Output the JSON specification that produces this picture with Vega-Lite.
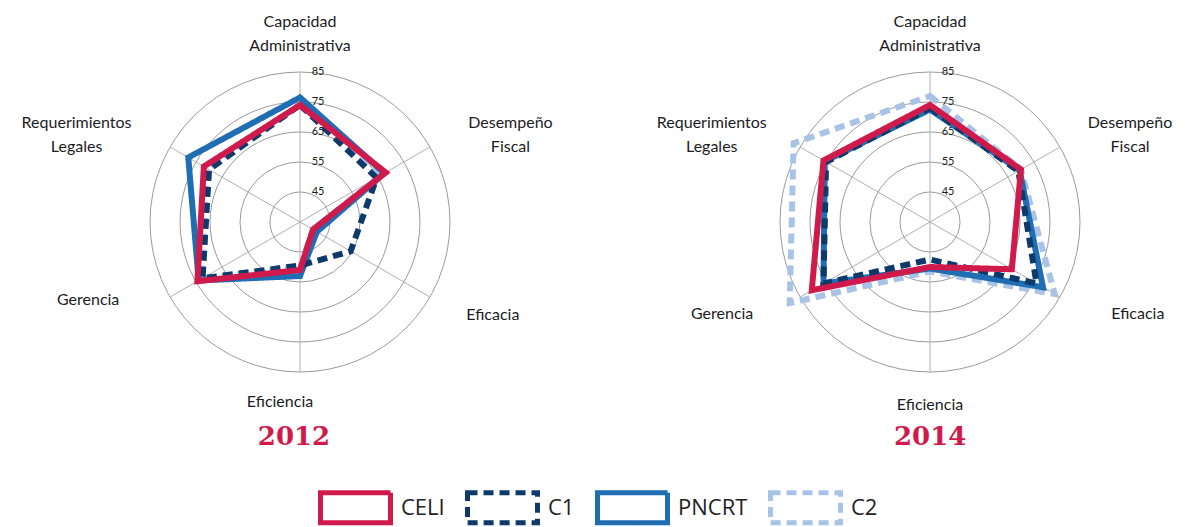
{
  "$schema": "https://vega.github.io/schema/vega-lite/v6.json",
  "padding": 0,
  "background": "white",
  "config": {"view": {"stroke": null}},
  "datasets": {
    "radar": [
      {"year": 2012, "serie": "C2", "k": 0, "v": 74},
      {"year": 2012, "serie": "C2", "k": 1, "v": 66.5},
      {"year": 2012, "serie": "C2", "k": 2, "v": 40},
      {"year": 2012, "serie": "C2", "k": 3, "v": 50},
      {"year": 2012, "serie": "C2", "k": 4, "v": 72.5},
      {"year": 2012, "serie": "C2", "k": 5, "v": 71},
      {"year": 2012, "serie": "PNCRT", "k": 0, "v": 76.5},
      {"year": 2012, "serie": "PNCRT", "k": 1, "v": 67.5},
      {"year": 2012, "serie": "PNCRT", "k": 2, "v": 41.5},
      {"year": 2012, "serie": "PNCRT", "k": 3, "v": 53},
      {"year": 2012, "serie": "PNCRT", "k": 4, "v": 74},
      {"year": 2012, "serie": "PNCRT", "k": 5, "v": 78},
      {"year": 2012, "serie": "C1", "k": 0, "v": 74},
      {"year": 2012, "serie": "C1", "k": 1, "v": 64.5},
      {"year": 2012, "serie": "C1", "k": 2, "v": 54.5},
      {"year": 2012, "serie": "C1", "k": 3, "v": 49.5},
      {"year": 2012, "serie": "C1", "k": 4, "v": 72.5},
      {"year": 2012, "serie": "C1", "k": 5, "v": 70},
      {"year": 2012, "serie": "CELI", "k": 0, "v": 74},
      {"year": 2012, "serie": "CELI", "k": 1, "v": 68},
      {"year": 2012, "serie": "CELI", "k": 2, "v": 40},
      {"year": 2012, "serie": "CELI", "k": 3, "v": 51},
      {"year": 2012, "serie": "CELI", "k": 4, "v": 74.5},
      {"year": 2012, "serie": "CELI", "k": 5, "v": 72},
      {"year": 2014, "serie": "C2", "k": 0, "v": 77},
      {"year": 2014, "serie": "C2", "k": 1, "v": 70},
      {"year": 2014, "serie": "C2", "k": 2, "v": 83},
      {"year": 2014, "serie": "C2", "k": 3, "v": 51.5},
      {"year": 2014, "serie": "C2", "k": 4, "v": 89},
      {"year": 2014, "serie": "C2", "k": 5, "v": 87.5},
      {"year": 2014, "serie": "PNCRT", "k": 0, "v": 72.5},
      {"year": 2014, "serie": "PNCRT", "k": 1, "v": 69.5},
      {"year": 2014, "serie": "PNCRT", "k": 2, "v": 78.5},
      {"year": 2014, "serie": "PNCRT", "k": 3, "v": 50.5},
      {"year": 2014, "serie": "PNCRT", "k": 4, "v": 76},
      {"year": 2014, "serie": "PNCRT", "k": 5, "v": 75.5},
      {"year": 2014, "serie": "C1", "k": 0, "v": 73},
      {"year": 2014, "serie": "C1", "k": 1, "v": 69},
      {"year": 2014, "serie": "C1", "k": 2, "v": 76},
      {"year": 2014, "serie": "C1", "k": 3, "v": 47.5},
      {"year": 2014, "serie": "C1", "k": 4, "v": 76},
      {"year": 2014, "serie": "C1", "k": 5, "v": 75},
      {"year": 2014, "serie": "CELI", "k": 0, "v": 74},
      {"year": 2014, "serie": "CELI", "k": 1, "v": 70},
      {"year": 2014, "serie": "CELI", "k": 2, "v": 66.5},
      {"year": 2014, "serie": "CELI", "k": 3, "v": 50},
      {"year": 2014, "serie": "CELI", "k": 4, "v": 80.5},
      {"year": 2014, "serie": "CELI", "k": 5, "v": 76}
    ],
    "rings": [{"ring": 45}, {"ring": 55}, {"ring": 65}, {"ring": 75}, {"ring": 85}],
    "ejes": [
      {"k": 0, "label": "Capacidad\nAdministrativa"},
      {"k": 1, "label": "Desempeño\nFiscal"},
      {"k": 2, "label": "Eficacia"},
      {"k": 3, "label": "Eficiencia"},
      {"k": 4, "label": "Gerencia"},
      {"k": 5, "label": "Requerimientos\nLegales"}
    ]
  },
  "resolve": {
    "scale": {"x": "independent", "y": "independent"}
  },
  "spacing": 30,
  "hconcat": [
    {
      "width": 600,
      "height": 420,
      "title": {"text": "2012", "orient": "bottom", "offset": 4, "dx": -6, "font": "DejaVu Serif", "fontSize": 26, "fontWeight": "bold", "color": "#d11a4c", "anchor": "middle"},
      "layer": [
        {
          "data": {"name": "rings"},
          "transform": [{"calculate": "0", "as": "z"}, {"calculate": "datum.ring - 35", "as": "rr"}],
          "mark": {"type": "point", "shape": "circle", "filled": false, "stroke": "#9a9a9a", "strokeWidth": 1, "opacity": 1},
          "encoding": {
            "x": {"field": "z", "type": "quantitative", "scale": {"domain": [-100, 100]}, "axis": null},
            "y": {"field": "z", "type": "quantitative", "scale": {"domain": [-66, 74]}, "axis": null},
            "size": {"field": "rr", "type": "quantitative", "scale": {"type": "pow", "exponent": 2, "domain": [0, 50], "range": [0, 90000]}, "legend": null}
          }
        },
        {
          "data": {"name": "ejes"},
          "transform": [
            {"calculate": "0", "as": "z"},
            {"calculate": "50*sin(datum.k*PI/3)", "as": "ex"},
            {"calculate": "50*cos(datum.k*PI/3)", "as": "ey"}
          ],
          "mark": {"type": "rule", "stroke": "#b0b0b0", "strokeWidth": 1},
          "encoding": {
            "x": {"field": "z", "type": "quantitative", "scale": {"domain": [-100, 100]}, "axis": null},
            "y": {"field": "z", "type": "quantitative", "scale": {"domain": [-66, 74]}, "axis": null},
            "x2": {"field": "ex"},
            "y2": {"field": "ey"}
          }
        },
        {
          "data": {"name": "rings"},
          "transform": [{"calculate": "0", "as": "z"}, {"calculate": "datum.ring - 35", "as": "ry"}],
          "mark": {"type": "text", "dx": 18, "fontSize": 11, "font": "Lato", "color": "#222222", "align": "center", "baseline": "middle"},
          "encoding": {
            "x": {"field": "z", "type": "quantitative", "scale": {"domain": [-100, 100]}, "axis": null},
            "y": {"field": "ry", "type": "quantitative", "scale": {"domain": [-66, 74]}, "axis": null},
            "text": {"field": "ring", "type": "quantitative"}
          }
        },
        {
          "data": {"name": "radar"},
          "transform": [
            {"filter": "datum.year == 2012"},
            {"calculate": "(datum.v-35)*sin(datum.k*PI/3)", "as": "px"},
            {"calculate": "(datum.v-35)*cos(datum.k*PI/3)", "as": "py"}
          ],
          "mark": {"type": "line", "interpolate": "linear-closed", "strokeWidth": 6, "strokeJoin": "miter"},
          "encoding": {
            "x": {"field": "px", "type": "quantitative", "scale": {"domain": [-100, 100]}, "axis": null},
            "y": {"field": "py", "type": "quantitative", "scale": {"domain": [-66, 74]}, "axis": null},
            "order": {"field": "k", "type": "quantitative"},
            "color": {
              "field": "serie", "type": "nominal",
              "scale": {"domain": ["CELI", "C1", "PNCRT", "C2"], "range": ["#d11a4c", "#0e3a6b", "#1f6db3", "#a9c3e6"]},
              "legend": {"orient": "none", "legendX": 318, "legendY": 470, "direction": "horizontal", "title": null, "symbolType": "M-1,-0.43H1V0.43H-1Z", "symbolSize": 4900, "symbolStrokeWidth": 5, "symbolFillColor": "transparent", "labelFontSize": 22, "labelFont": "Open Sans", "labelColor": "#222222", "labelOffset": 8, "columnPadding": 12}
            },
            "strokeDash": {
              "field": "serie", "type": "nominal",
              "scale": {"domain": ["CELI", "C1", "PNCRT", "C2"], "range": [[1, 0], [10, 6], [1, 0], [10, 6]]},
              "legend": {"orient": "none", "legendX": 318, "legendY": 470, "direction": "horizontal", "title": null, "symbolType": "M-1,-0.43H1V0.43H-1Z", "symbolSize": 4900, "symbolStrokeWidth": 5, "symbolFillColor": "transparent", "labelFontSize": 22, "labelFont": "Open Sans", "labelColor": "#222222", "labelOffset": 8, "columnPadding": 12}
            }
          }
        },
        {
          "data": {"name": "ejes"},
          "transform": [
            {"filter": "datum.k == 0"},
            {"calculate": "80*sin(datum.k*PI/3)", "as": "lx"},
            {"calculate": "62*cos(datum.k*PI/3)", "as": "ly"}
          ],
          "mark": {"type": "text", "lineBreak": "\n", "lineHeight": 24, "dy": -14, "fontSize": 16, "font": "Lato", "color": "#1c1c24", "align": "center", "baseline": "middle"},
          "encoding": {
            "x": {"field": "lx", "type": "quantitative", "scale": {"domain": [-100, 100]}, "axis": null},
            "y": {"field": "ly", "type": "quantitative", "scale": {"domain": [-66, 74]}, "axis": null},
            "text": {"field": "label", "type": "nominal"}
          }
        },
        {
          "data": {"name": "ejes"},
          "transform": [
            {"filter": {"field": "k", "oneOf": [1, 5]}},
            {"calculate": "(datum.k == 5 ? 86 : 81)*sin(datum.k*PI/3)", "as": "lx"},
            {"calculate": "62*cos(datum.k*PI/3)", "as": "ly"}
          ],
          "mark": {"type": "text", "lineBreak": "\n", "lineHeight": 24, "dy": -6, "fontSize": 16, "font": "Lato", "color": "#1c1c24", "align": "center", "baseline": "middle"},
          "encoding": {
            "x": {"field": "lx", "type": "quantitative", "scale": {"domain": [-100, 100]}, "axis": null},
            "y": {"field": "ly", "type": "quantitative", "scale": {"domain": [-66, 74]}, "axis": null},
            "text": {"field": "label", "type": "nominal"}
          }
        },
        {
          "data": {"name": "ejes"},
          "transform": [
            {"filter": "datum.k == 2"},
            {"calculate": "80*sin(datum.k*PI/3)", "as": "lx"},
            {"calculate": "62*cos(datum.k*PI/3)", "as": "ly"}
          ],
          "mark": {"type": "text", "dx": -15, "fontSize": 16, "font": "Lato", "color": "#1c1c24", "align": "center", "baseline": "middle"},
          "encoding": {
            "x": {"field": "lx", "type": "quantitative", "scale": {"domain": [-100, 100]}, "axis": null},
            "y": {"field": "ly", "type": "quantitative", "scale": {"domain": [-66, 74]}, "axis": null},
            "text": {"field": "label", "type": "nominal"}
          }
        },
        {
          "data": {"name": "ejes"},
          "transform": [
            {"filter": "datum.k == 3"},
            {"calculate": "80*sin(datum.k*PI/3)", "as": "lx"},
            {"calculate": "60*cos(datum.k*PI/3)", "as": "ly"}
          ],
          "mark": {"type": "text", "dx": -20, "fontSize": 16, "font": "Lato", "color": "#1c1c24", "align": "center", "baseline": "middle"},
          "encoding": {
            "x": {"field": "lx", "type": "quantitative", "scale": {"domain": [-100, 100]}, "axis": null},
            "y": {"field": "ly", "type": "quantitative", "scale": {"domain": [-66, 74]}, "axis": null},
            "text": {"field": "label", "type": "nominal"}
          }
        },
        {
          "data": {"name": "ejes"},
          "transform": [
            {"filter": "datum.k == 4"},
            {"calculate": "80*sin(datum.k*PI/3)", "as": "lx"},
            {"calculate": "62*cos(datum.k*PI/3)", "as": "ly"}
          ],
          "mark": {"type": "text", "dy": -15, "dx": -4, "fontSize": 16, "font": "Lato", "color": "#1c1c24", "align": "center", "baseline": "middle"},
          "encoding": {
            "x": {"field": "lx", "type": "quantitative", "scale": {"domain": [-100, 100]}, "axis": null},
            "y": {"field": "ly", "type": "quantitative", "scale": {"domain": [-66, 74]}, "axis": null},
            "text": {"field": "label", "type": "nominal"}
          }
        }
      ]
    },
    {
      "width": 555,
      "height": 420,
      "title": {"text": "2014", "orient": "bottom", "offset": 4, "font": "DejaVu Serif", "fontSize": 26, "fontWeight": "bold", "color": "#d11a4c", "anchor": "start", "dx": 264},
      "layer": [
        {
          "data": {"name": "rings"},
          "transform": [{"calculate": "0", "as": "z"}, {"calculate": "datum.ring - 35", "as": "rr"}],
          "mark": {"type": "point", "shape": "circle", "filled": false, "stroke": "#9a9a9a", "strokeWidth": 1, "opacity": 1},
          "encoding": {
            "x": {"field": "z", "type": "quantitative", "scale": {"domain": [-100, 85]}, "axis": null},
            "y": {"field": "z", "type": "quantitative", "scale": {"domain": [-66, 74]}, "axis": null},
            "size": {"field": "rr", "type": "quantitative", "scale": {"type": "pow", "exponent": 2, "domain": [0, 50], "range": [0, 90000]}, "legend": null}
          }
        },
        {
          "data": {"name": "ejes"},
          "transform": [
            {"calculate": "0", "as": "z"},
            {"calculate": "50*sin(datum.k*PI/3)", "as": "ex"},
            {"calculate": "50*cos(datum.k*PI/3)", "as": "ey"}
          ],
          "mark": {"type": "rule", "stroke": "#b0b0b0", "strokeWidth": 1},
          "encoding": {
            "x": {"field": "z", "type": "quantitative", "scale": {"domain": [-100, 85]}, "axis": null},
            "y": {"field": "z", "type": "quantitative", "scale": {"domain": [-66, 74]}, "axis": null},
            "x2": {"field": "ex"},
            "y2": {"field": "ey"}
          }
        },
        {
          "data": {"name": "rings"},
          "transform": [{"calculate": "0", "as": "z"}, {"calculate": "datum.ring - 35", "as": "ry"}],
          "mark": {"type": "text", "dx": 18, "fontSize": 11, "font": "Lato", "color": "#222222", "align": "center", "baseline": "middle"},
          "encoding": {
            "x": {"field": "z", "type": "quantitative", "scale": {"domain": [-100, 85]}, "axis": null},
            "y": {"field": "ry", "type": "quantitative", "scale": {"domain": [-66, 74]}, "axis": null},
            "text": {"field": "ring", "type": "quantitative"}
          }
        },
        {
          "data": {"name": "radar"},
          "transform": [
            {"filter": "datum.year == 2014"},
            {"calculate": "(datum.v-35)*sin(datum.k*PI/3)", "as": "px"},
            {"calculate": "(datum.v-35)*cos(datum.k*PI/3)", "as": "py"}
          ],
          "mark": {"type": "line", "interpolate": "linear-closed", "strokeWidth": 6, "strokeJoin": "miter"},
          "encoding": {
            "x": {"field": "px", "type": "quantitative", "scale": {"domain": [-100, 85]}, "axis": null},
            "y": {"field": "py", "type": "quantitative", "scale": {"domain": [-66, 74]}, "axis": null},
            "order": {"field": "k", "type": "quantitative"},
            "color": {
              "field": "serie", "type": "nominal",
              "scale": {"domain": ["CELI", "C1", "PNCRT", "C2"], "range": ["#d11a4c", "#0e3a6b", "#1f6db3", "#a9c3e6"]},
              "legend": {"orient": "none", "legendX": 318, "legendY": 470, "direction": "horizontal", "title": null, "symbolType": "M-1,-0.43H1V0.43H-1Z", "symbolSize": 4900, "symbolStrokeWidth": 5, "symbolFillColor": "transparent", "labelFontSize": 22, "labelFont": "Open Sans", "labelColor": "#222222", "labelOffset": 8, "columnPadding": 12}
            },
            "strokeDash": {
              "field": "serie", "type": "nominal",
              "scale": {"domain": ["CELI", "C1", "PNCRT", "C2"], "range": [[1, 0], [10, 6], [1, 0], [10, 6]]},
              "legend": {"orient": "none", "legendX": 318, "legendY": 470, "direction": "horizontal", "title": null, "symbolType": "M-1,-0.43H1V0.43H-1Z", "symbolSize": 4900, "symbolStrokeWidth": 5, "symbolFillColor": "transparent", "labelFontSize": 22, "labelFont": "Open Sans", "labelColor": "#222222", "labelOffset": 8, "columnPadding": 12}
            }
          }
        },
        {
          "data": {"name": "ejes"},
          "transform": [
            {"filter": "datum.k == 0"},
            {"calculate": "80*sin(datum.k*PI/3)", "as": "lx"},
            {"calculate": "62*cos(datum.k*PI/3)", "as": "ly"}
          ],
          "mark": {"type": "text", "lineBreak": "\n", "lineHeight": 24, "dy": -14, "fontSize": 16, "font": "Lato", "color": "#1c1c24", "align": "center", "baseline": "middle"},
          "encoding": {
            "x": {"field": "lx", "type": "quantitative", "scale": {"domain": [-100, 85]}, "axis": null},
            "y": {"field": "ly", "type": "quantitative", "scale": {"domain": [-66, 74]}, "axis": null},
            "text": {"field": "label", "type": "nominal"}
          }
        },
        {
          "data": {"name": "ejes"},
          "transform": [
            {"filter": {"field": "k", "oneOf": [1, 5]}},
            {"calculate": "(datum.k == 5 ? 84 : 77)*sin(datum.k*PI/3)", "as": "lx"},
            {"calculate": "62*cos(datum.k*PI/3)", "as": "ly"}
          ],
          "mark": {"type": "text", "lineBreak": "\n", "lineHeight": 24, "dy": -6, "fontSize": 16, "font": "Lato", "color": "#1c1c24", "align": "center", "baseline": "middle"},
          "encoding": {
            "x": {"field": "lx", "type": "quantitative", "scale": {"domain": [-100, 85]}, "axis": null},
            "y": {"field": "ly", "type": "quantitative", "scale": {"domain": [-66, 74]}, "axis": null},
            "text": {"field": "label", "type": "nominal"}
          }
        },
        {
          "data": {"name": "ejes"},
          "transform": [
            {"filter": {"field": "k", "oneOf": [2, 3, 4]}},
            {"calculate": "80*sin(datum.k*PI/3)", "as": "lx"},
            {"calculate": "61*cos(datum.k*PI/3)", "as": "ly"}
          ],
          "mark": {"type": "text", "fontSize": 16, "font": "Lato", "color": "#1c1c24", "align": "center", "baseline": "middle"},
          "encoding": {
            "x": {"field": "lx", "type": "quantitative", "scale": {"domain": [-100, 85]}, "axis": null},
            "y": {"field": "ly", "type": "quantitative", "scale": {"domain": [-66, 74]}, "axis": null},
            "text": {"field": "label", "type": "nominal"}
          }
        }
      ]
    }
  ]
}
